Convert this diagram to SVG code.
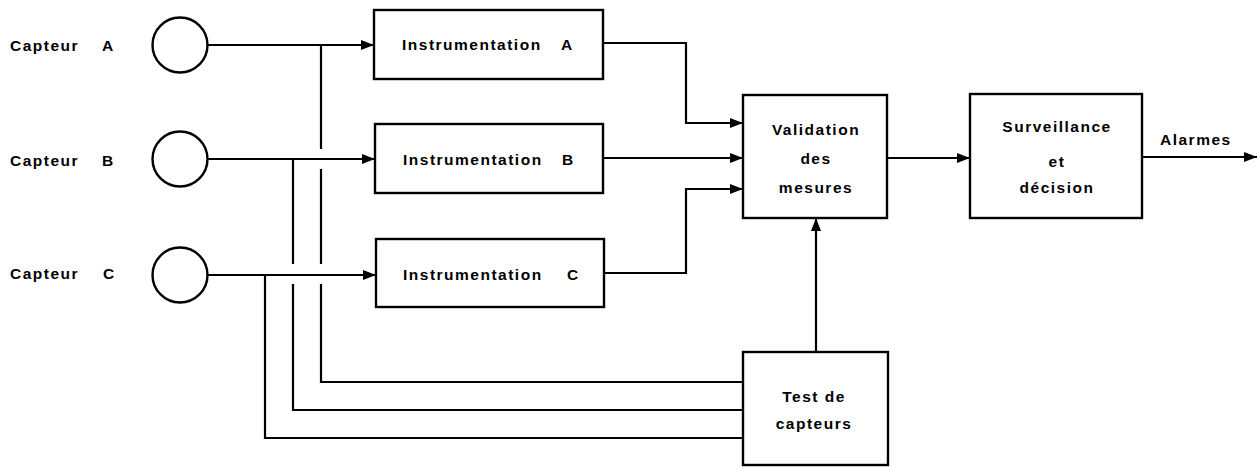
<svg xmlns="http://www.w3.org/2000/svg" width="1259" height="467" viewBox="0 0 1259 467">
  <defs>
    <marker id="arrow" viewBox="0 0 13 10" refX="13" refY="5" markerWidth="13" markerHeight="10" markerUnits="userSpaceOnUse" orient="auto">
      <path d="M0,0 L13,5 L0,10 Z" fill="#000"/>
    </marker>
    <style>
      .box { fill: #fff; stroke: #000; stroke-width: 2.4; }
      .sensor { fill: #fff; stroke: #000; stroke-width: 2.4; }
      .wire { fill: none; stroke: #000; stroke-width: 2.2; }
      .arrow { marker-end: url(#arrow); }
      text { font-family: "Liberation Sans", Arial, sans-serif; font-weight: bold; font-size: 15.5px; letter-spacing: 1.5px; fill: #000; }
      .mid { text-anchor: middle; }
    </style>
  </defs>
  <rect width="1259" height="467" fill="#fff"/>

  <!-- connectors -->
  <g id="connectors">
    <!-- sensor outputs into instrumentation -->
    <path class="wire arrow" d="M208,45 H374"/>
    <path class="wire arrow" d="M208,159 H375"/>
    <path class="wire arrow" d="M208,275 H376"/>
    <!-- taps to the sensor test block (gaps where they cross other wires) -->
    <path class="wire" d="M321,45 V149 M321,169 V264 M321,284 V382 H743"/>
    <path class="wire" d="M293,159 V264 M293,284 V410 H743"/>
    <path class="wire" d="M265,275 V438 H743"/>
    <!-- instrumentation outputs into validation -->
    <path class="wire arrow" d="M603,43 H686 V123 H743"/>
    <path class="wire arrow" d="M603,158 H743"/>
    <path class="wire arrow" d="M604,273 H686 V189 H743"/>
    <!-- test result into validation -->
    <path class="wire arrow" d="M816,352 V218"/>
    <!-- validation to monitoring -->
    <path class="wire arrow" d="M887,158 H970"/>
    <!-- alarms output -->
    <path class="wire arrow" d="M1142,157 H1257"/>
  </g>

  <!-- sensors -->
  <g id="capteur-a">
    <circle class="sensor" cx="180" cy="45" r="27.5"/>
    <text x="10" y="51">Capteur<tspan x="102">A</tspan></text>
  </g>
  <g id="capteur-b">
    <circle class="sensor" cx="180" cy="159" r="27.5"/>
    <text x="10" y="166">Capteur<tspan x="102">B</tspan></text>
  </g>
  <g id="capteur-c">
    <circle class="sensor" cx="180" cy="275" r="27.5"/>
    <text x="10" y="279">Capteur<tspan x="103">C</tspan></text>
  </g>

  <!-- instrumentation chains -->
  <g id="instrumentation-a">
    <rect class="box" x="374" y="10" width="229" height="69"/>
    <text x="402" y="50">Instrumentation<tspan x="561">A</tspan></text>
  </g>
  <g id="instrumentation-b">
    <rect class="box" x="375" y="124" width="228" height="69"/>
    <text x="403" y="165">Instrumentation<tspan x="562">B</tspan></text>
  </g>
  <g id="instrumentation-c">
    <rect class="box" x="376" y="239" width="228" height="68"/>
    <text x="403" y="280">Instrumentation<tspan x="567">C</tspan></text>
  </g>

  <!-- measurement validation -->
  <g id="validation">
    <rect class="box" x="743" y="95" width="144" height="123"/>
    <text class="mid" x="816" y="135">Validation</text>
    <text class="mid" x="816" y="164">des</text>
    <text class="mid" x="816" y="193">mesures</text>
  </g>

  <!-- monitoring and decision -->
  <g id="surveillance">
    <rect class="box" x="970" y="94" width="172" height="124"/>
    <text class="mid" x="1057" y="132">Surveillance</text>
    <text class="mid" x="1057" y="167">et</text>
    <text class="mid" x="1057" y="193">décision</text>
  </g>

  <!-- sensor test -->
  <g id="test-capteurs">
    <rect class="box" x="743" y="352" width="145" height="113"/>
    <text class="mid" x="814" y="402">Test de</text>
    <text class="mid" x="814" y="429">capteurs</text>
  </g>

  <!-- output label -->
  <g id="alarmes">
    <text x="1160" y="145">Alarmes</text>
  </g>
</svg>
